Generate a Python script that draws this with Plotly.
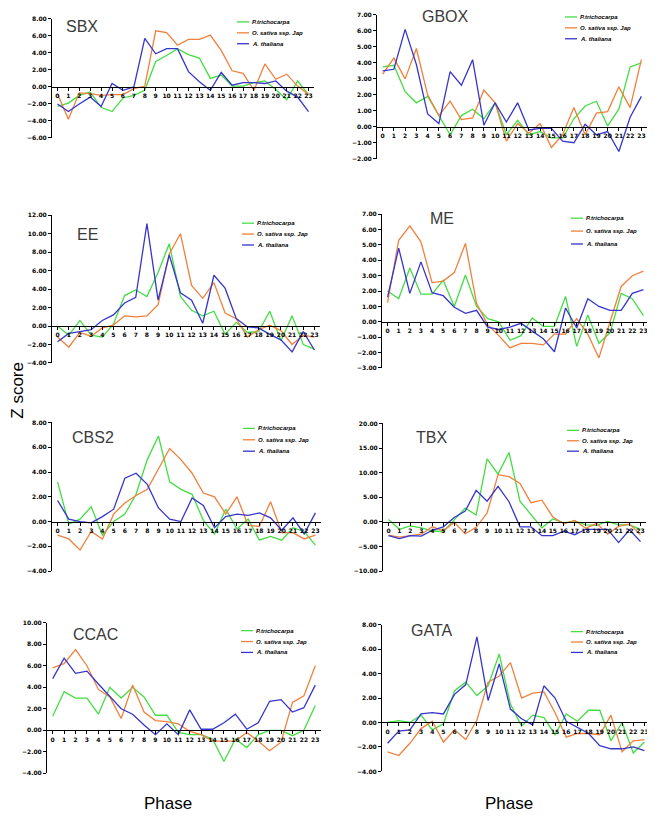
import plotly.graph_objects as go

phase = list(range(24))
phase_labels = [str(i) for i in phase]
series_names = ["P.trichocarpa", "O. sativa ssp. Jap", "A. thaliana"]

SBX_P = [-2.3, -1.9, -1.0, -0.6, -2.4, -2.9, -1.3, -1.0, -0.4, 3.0, 3.7, 4.5, 3.8, 3.4, 1.0, 1.4, 0.1, 0.1, 0.5, 0.7, -0.3, -1.5, 0.7, -0.9]
SBX_O = [-0.8, -3.8, -0.7, -0.8, -1.0, -0.9, -0.9, -0.2, 0.1, 6.6, 6.4, 4.9, 5.6, 5.6, 6.1, 4.3, 1.9, 1.6, -0.4, 2.7, 0.9, 1.5, 0.1, -0.9]
SBX_A = [-2.0, -2.9, -2.0, -1.2, -2.3, 0.4, -0.4, 0.0, 5.7, 3.9, 4.5, 4.5, 1.8, 0.6, -0.4, 1.7, 0.2, 0.5, 0.5, 0.4, 0.7, -0.5, -1.2, -2.9]

GBOX_P = [3.75, 3.85, 2.2, 1.5, 1.9, 0.7, -0.5, 0.7, 1.1, 0.5, 1.5, -0.5, 0.4, -0.5, -0.3, -0.7, -0.7, 0.5, 1.3, 1.6, 0.05, 1.1, 3.75, 4.0]
GBOX_O = [3.3, 4.3, 3.0, 4.9, 2.0, 0.7, 1.6, 0.45, 0.55, 2.3, 1.5, -0.9, 0.2, -0.4, 0.2, -1.3, -0.5, 1.2, -0.5, 0.85, 0.95, 2.5, 1.2, 4.2]
GBOX_A = [3.5, 3.6, 6.1, 3.9, 0.8, 0.2, 3.45, 2.6, 4.2, 0.1, 1.5, 0.3, 1.5, -0.2, -0.1, -0.1, -0.9, -1.0, 0.15, -0.5, -0.3, -1.55, 0.6, 1.9]

EE_P = [0.0, -1.0, 0.6, -1.0, -1.2, 0.2, 3.3, 3.9, 3.2, 5.8, 8.9, 3.2, 1.7, 1.1, 1.6, -0.9, 0.4, -0.7, -0.6, 1.6, -1.6, 1.1, -2.0, -2.5]
EE_O = [-1.2, -2.3, -0.7, -1.1, -0.2, 0.1, 1.1, 1.0, 1.1, 2.3, 7.8, 10.0, 4.4, 3.0, 4.7, 1.4, 0.8, -1.2, -0.4, 0.1, -0.5, -2.0, -1.0, -1.2]
EE_A = [-1.7, -0.8, -0.6, -0.4, 0.6, 1.2, 2.5, 3.1, 11.1, 2.8, 7.7, 3.6, 2.8, 0.3, 5.5, 4.1, 0.8, -0.1, -0.2, -0.9, -1.5, -2.8, -0.6, -2.6]

ME_P = [2.0, 1.5, 3.5, 1.8, 1.8, 2.7, 1.0, 3.05, 1.0, 0.2, 0.0, -1.2, -0.9, 0.25, -0.3, -0.3, 1.65, -1.6, 0.45, -1.4, -0.7, 1.85, 1.5, 0.4]
ME_O = [1.25, 5.3, 6.25, 5.2, 2.55, 2.65, 3.2, 5.1, 1.2, -0.2, -0.9, -1.7, -1.4, -1.4, -1.5, -0.8, -0.8, 0.2, -0.8, -2.35, 0.0, 2.3, 3.0, 3.3]
ME_A = [1.6, 4.8, 1.85, 3.9, 1.9, 1.7, 0.95, 0.55, 0.75, -0.35, -0.5, -0.35, -0.1, -0.6, -1.1, -1.95, 0.9, -0.4, 1.5, 1.0, 0.75, 0.75, 1.85, 2.1]

CBS2_P = [3.2, -0.2, 0.2, 1.2, -1.1, 0.0, 0.6, 2.2, 5.0, 6.9, 3.2, 2.6, 2.2, 0.1, -1.0, 1.0, -0.6, 0.2, -1.5, -1.2, -1.5, -0.5, -0.8, -1.9]
CBS2_O = [-1.1, -1.4, -2.3, -0.8, -1.4, 0.6, 1.5, 2.1, 2.6, 4.3, 5.9, 5.0, 3.9, 2.3, 2.0, 0.6, 2.0, -0.3, -0.4, 1.6, -0.9, -0.9, -1.4, -1.1]
CBS2_A = [1.7, 0.2, 0.0, -0.1, 0.4, 1.0, 3.5, 3.9, 3.0, 1.1, 0.2, 0.0, 1.9, 1.3, -0.5, 0.4, 0.6, 0.5, 0.7, 0.3, -0.7, 0.3, -1.0, 0.7]

TBX_P = [0.5, -1.5, -0.8, -1.2, -1.8, -2.0, 0.4, 2.8, 1.4, 12.8, 9.7, 14.1, 4.2, 1.6, -1.2, 0.6, -0.2, 0.2, -0.6, -0.7, 0.1, -0.6, -0.6, -1.5]
TBX_O = [-2.7, -3.1, -2.8, -2.5, -1.0, -1.8, -0.1, -2.4, -1.1, 1.8, 9.6, 9.2, 7.8, 3.9, 4.4, 1.0, -0.4, 0.3, -1.3, -0.3, -2.5, -0.9, -0.4, -2.6]
TBX_A = [-2.8, -3.4, -2.8, -2.9, -1.7, -1.0, 0.9, 2.2, 6.4, 4.2, 7.2, 4.1, -1.0, -1.0, -2.8, -2.8, -1.9, -2.6, -1.5, -1.5, -1.5, -4.2, -1.6, -4.0]

CCAC_P = [1.3, 3.6, 3.0, 3.0, 1.5, 4.0, 3.0, 4.0, 3.1, 1.4, 1.4, -0.2, -0.4, -0.4, -0.8, -2.9, -0.8, -1.6, -0.4, 0.0, 0.0, -0.5, 0.0, 2.3]
CCAC_O = [5.8, 6.2, 7.5, 6.0, 3.8, 3.1, 1.1, 4.2, 1.7, 0.9, 0.8, 0.6, -0.1, -0.4, -1.0, -1.0, -1.0, -0.2, -1.0, -1.9, -1.1, 2.6, 3.2, 6.0]
CCAC_A = [4.8, 6.7, 5.3, 5.5, 4.3, 3.1, 2.0, 1.5, 0.5, -0.4, 0.6, -0.4, 1.9, 0.1, 0.1, 0.7, 1.5, 0.1, 0.7, 2.7, 2.85, 1.7, 2.1, 4.2]

GATA_P = [0.0, 0.15, 0.0, 0.6, -0.6, -0.1, 2.6, 3.3, 2.2, 3.0, 5.6, 1.5, -0.3, 0.6, 0.4, -1.0, 0.7, 0.1, 1.0, 1.0, -1.5, 0.0, -2.5, -1.6]
GATA_O = [-2.4, -2.7, -1.7, -0.5, 0.1, -1.6, -0.6, -1.4, 0.2, 3.3, 3.8, 4.9, 2.0, 2.4, 2.5, 0.8, -1.2, -0.9, -0.9, -1.0, 0.6, -2.4, -1.5, -1.4]
GATA_A = [-1.7, -0.7, -0.6, 0.7, 0.8, 0.7, 2.3, 3.1, 7.0, 1.8, 4.8, 1.1, 0.3, -0.2, 3.0, 2.0, 0.1, -0.4, -0.9, -1.9, -2.15, -2.15, -2.0, -2.3]

motif_names = ["SBX", "GBOX", "EE", "ME", "CBS2", "TBX", "CCAC", "GATA"]
motif_series = [
    (SBX_P, SBX_O, SBX_A), (GBOX_P, GBOX_O, GBOX_A),
    (EE_P, EE_O, EE_A), (ME_P, ME_O, ME_A),
    (CBS2_P, CBS2_O, CBS2_A), (TBX_P, TBX_O, TBX_A),
    (CCAC_P, CCAC_O, CCAC_A), (GATA_P, GATA_O, GATA_A),
]
y_ranges = [(-6, 8), (-2, 7), (-4, 12), (-3, 7), (-4, 8), (-10, 20), (-4, 10), (-4, 8)]
y_dticks = [2, 1, 2, 1, 2, 5, 2, 2]

# ---- layout geometry (pixels in the 655x820 window) ----
W, H = 655, 820
OFF = 8  # default page body margin
FW, FH = W - OFF, H - OFF


def px_x(p):
    return min(1.0, max(0.0, (p - OFF) / FW))


def px_y(p):
    return min(1.0, max(0.0, 1 - (p - OFF) / FH))


# (x_left, x_right, y_top, y_bottom) of each plot area in pixels
boxes = [
    (52, 314, 15, 135), (377, 647, 11, 156),
    (52, 320, 213, 362), (382, 649, 212, 367),
    (52, 321, 422, 572), (383, 646, 423, 572),
    (47, 321, 624, 776), (382, 650, 626, 774),
]
title_pos = [(82, 23), (445, 13), (87, 232), (442, 216),
             (93, 437), (431, 437), (95, 636), (432, 632)]
legend_pos = [(237, 18, 11), (565, 13, 11), (242, 221, 11), (571, 216, 13),
              (243, 428, 11.5), (567, 430, 10.5), (241, 632, 11), (571, 633, 10.5)]

colors = ["#44DD44", "#F0803C", "#3636CC"]

fig = go.Figure()
tickfont = dict(family="DejaVu Sans", size=6, color="black", weight="bold")

for i, (name, series, (ymin, ymax), dt, box) in enumerate(
        zip(motif_names, motif_series, y_ranges, y_dticks, boxes)):
    n = "" if i == 0 else str(i + 1)
    x0, x1, yt, yb = box
    xd = [px_x(x0), px_x(x1)]
    yd = [px_y(yb), px_y(yt)]
    for s, c, sname in zip(series, colors, series_names):
        fig.add_trace(go.Scatter(x=phase, y=s, mode="lines", name=sname,
                                 line=dict(color=c, width=1.3),
                                 xaxis="x" + n, yaxis="y" + n, showlegend=False))
    zero_pos = yd[0] + (0 - ymin) / (ymax - ymin) * (yd[1] - yd[0])
    fig.layout["xaxis" + n] = dict(
        domain=xd, anchor="free", position=zero_pos, range=[-0.5, 23.5],
        tickmode="array", tickvals=phase, ticktext=phase_labels,
        showline=True, linecolor="black", linewidth=1, ticks="outside",
        ticklen=3, tickcolor="black", showgrid=False, zeroline=False,
        tickfont=tickfont, fixedrange=True, ticklabeloverflow="allow")
    fig.layout["yaxis" + n] = dict(
        domain=yd, anchor="x" + n, range=[ymin, ymax], dtick=dt, tick0=0,
        tickformat=".2f", showline=True, linecolor="black", linewidth=1,
        ticks="outside", ticklen=3, tickcolor="black", showgrid=False,
        zeroline=False, tickfont=tickfont, fixedrange=True,
        ticklabeloverflow="allow")
    tx, ty = title_pos[i]
    fig.add_annotation(x=px_x(tx), y=px_y(ty), xref="paper", yref="paper",
                       text=name, showarrow=False, xanchor="center", yanchor="middle",
                       font=dict(family="Liberation Sans", size=16, color="#3a3a3a"))
    lx, ly, dy = legend_pos[i]
    for k, (c, sname) in enumerate(zip(colors, series_names)):
        yy = px_y(ly + k * dy)
        fig.add_shape(type="line", xref="paper", yref="paper",
                      x0=px_x(lx), x1=px_x(lx + 12), y0=yy, y1=yy,
                      line=dict(color=c, width=1.3))
        fig.add_annotation(x=px_x(lx + 13), y=yy, xref="paper", yref="paper",
                           text="<b><i>" + sname + "</i></b>", showarrow=False,
                           xanchor="left", yanchor="middle",
                           font=dict(family="Liberation Sans", size=6, color="black"))

fig.add_annotation(x=px_x(18), y=px_y(390), xref="paper", yref="paper", text="Z score",
                   textangle=-90, showarrow=False, xanchor="center", yanchor="middle",
                   font=dict(family="Liberation Sans", size=17, color="black"))
for px in (168, 509):
    fig.add_annotation(x=px_x(px), y=px_y(806), xref="paper", yref="paper", text="Phase",
                       showarrow=False, xanchor="center", yanchor="middle",
                       font=dict(family="Liberation Sans", size=17, color="black"))

fig.update_layout(width=FW, height=FH, margin=dict(l=0, r=0, t=0, b=0),
                  paper_bgcolor="white", plot_bgcolor="white", showlegend=False)
fig.write_html("out.html")
